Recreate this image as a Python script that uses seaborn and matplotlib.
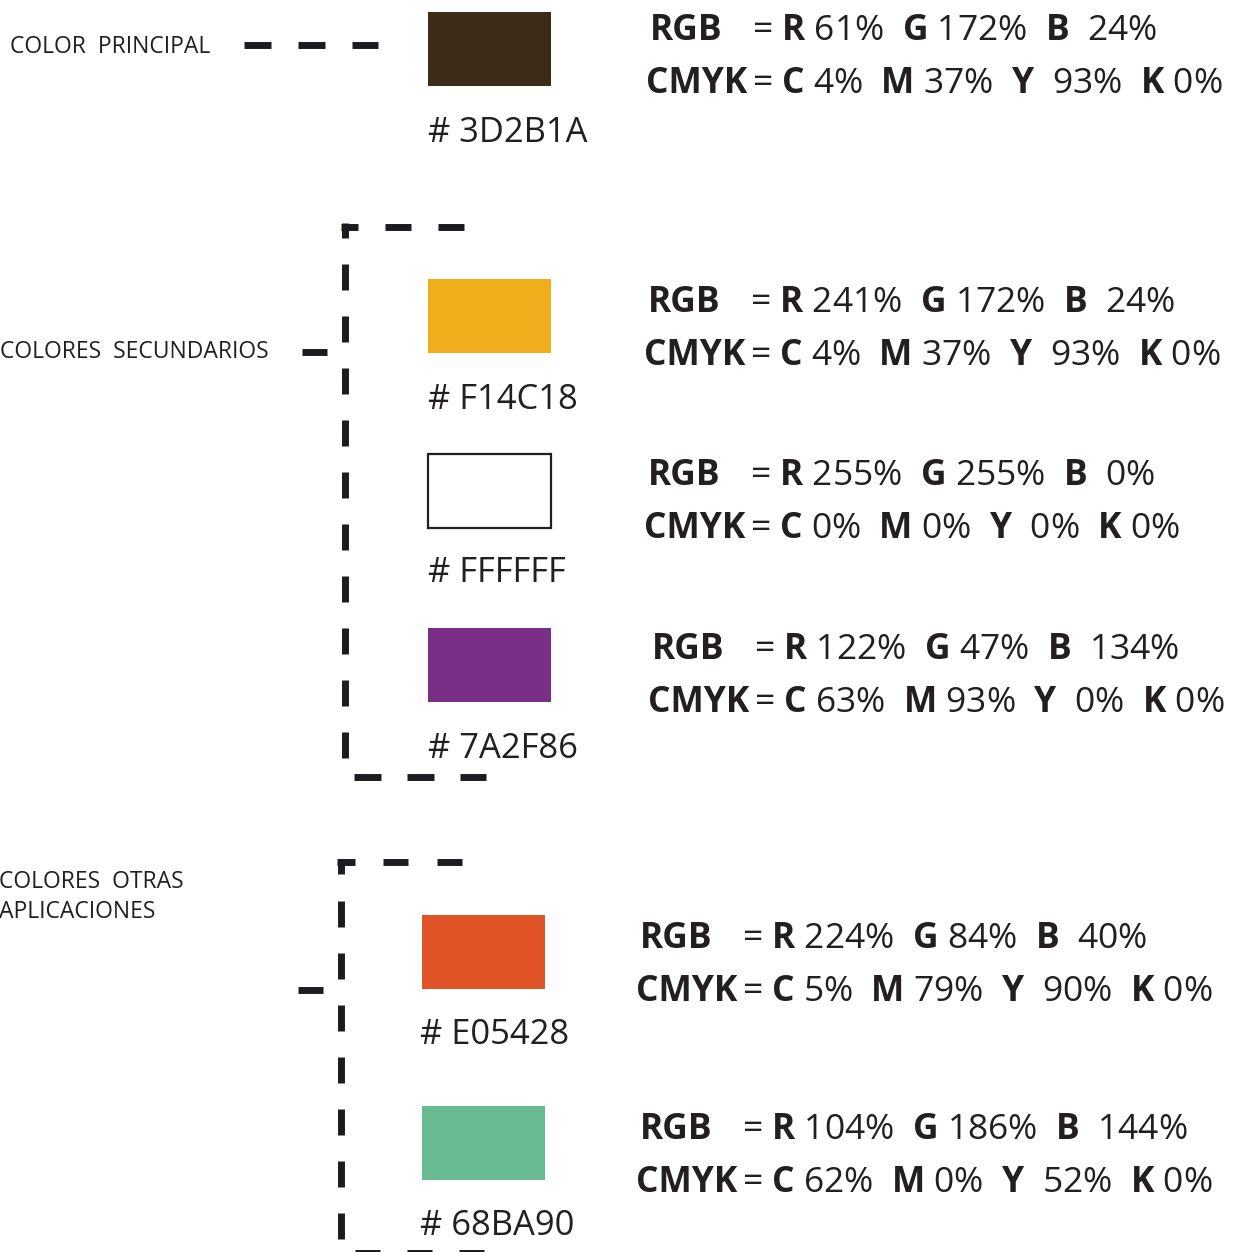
import matplotlib
matplotlib.use("Agg")
import matplotlib.pyplot as plt
from matplotlib.patches import Rectangle
import seaborn as sns

# ---------------- data ----------------
group_names = ["COLOR  PRINCIPAL", "COLORES  SECUNDARIOS", "COLORES  OTRAS\nAPLICACIONES"]
hex_labels = ["# 3D2B1A", "# F14C18", "# FFFFFF", "# 7A2F86", "# E05428", "# 68BA90"]
swatch_colors = ["#3D2B1A", "#F0AE1C", "#FFFFFF", "#7A2F86", "#E05428", "#68BA90"]
rgb_r = [61, 241, 255, 122, 224, 104]
rgb_g = [172, 172, 255, 47, 84, 186]
rgb_b = [24, 24, 0, 134, 40, 144]
cmyk_c = [4, 4, 0, 63, 5, 62]
cmyk_m = [37, 37, 0, 93, 79, 0]
cmyk_y = [93, 93, 0, 0, 90, 52]
cmyk_k = [0, 0, 0, 0, 0, 0]

# ---------------- style ----------------
sns.set_theme(style="white")
plt.rcParams["font.family"] = ["Open Sans", "DejaVu Sans"]
plt.rcParams["mathtext.fontset"] = "custom"
plt.rcParams["mathtext.rm"] = "Open Sans"
plt.rcParams["mathtext.bf"] = "Open Sans:bold"

INK = "#231F20"
DASH = "#1C1B1F"
W, H = 1238, 1252

fig = plt.figure(figsize=(W / 100, H / 100), dpi=100)
ax = fig.add_axes([0, 0, 1, 1])
ax.set_xlim(0, W)
ax.set_ylim(H, 0)
ax.axis("off")


def dashed(p0, p1, on=26, off=26, lw=5.0):
    (x0, y0), (x1, y1) = p0, p1
    L = ((x1 - x0) ** 2 + (y1 - y0) ** 2) ** 0.5
    ux, uy = (x1 - x0) / L, (y1 - y0) / L
    s = 0.0
    while s < L:
        e = min(s + on, L)
        ax.plot([x0 + ux * s, x0 + ux * e], [y0 + uy * s, y0 + uy * e],
                color=DASH, lw=lw, solid_capstyle="butt")
        s += on + off


# ---------------- layout ----------------
swatch_x = [428, 428, 428, 428, 422, 422]
swatch_top = [12, 279, 454, 628, 915, 1106]
SW, SH = 123, 74
hex_x = [428, 428, 428, 428, 420, 420]
hex_base = [142, 409, 582, 758, 1044, 1235]
eq_x = [752, 750, 750, 754, 742, 742]
rgb_base = [40, 312, 485, 659, 948, 1139]

HFS = 24.8
FS = 25.5

# swatches + hex labels
for i, col in enumerate(swatch_colors):
    edge = INK if col.upper() == "#FFFFFF" else "none"
    ax.add_patch(Rectangle((swatch_x[i], swatch_top[i]), SW, SH,
                           facecolor=col, edgecolor=edge, lw=1.6))
    ax.text(hex_x[i], hex_base[i], hex_labels[i], fontsize=HFS, color=INK,
            ha="left", va="baseline")

# RGB / CMYK lines
for i in range(len(hex_labels)):
    yb = rgb_base[i]
    ax.text(eq_x[i] - 102, yb, "RGB", fontsize=FS, fontweight="bold",
            color=INK, ha="left", va="baseline")
    ax.text(eq_x[i], yb,
            rf"= $\mathbf{{R}}$ {rgb_r[i]}%  $\mathbf{{G}}$ {rgb_g[i]}%  "
            rf"$\mathbf{{B}}$  {rgb_b[i]}%",
            fontsize=FS, color=INK, ha="left", va="baseline")
    yb2 = yb + 53
    ax.text(eq_x[i] - 106, yb2, "CMYK", fontsize=FS, fontweight="bold",
            color=INK, ha="left", va="baseline")
    ax.text(eq_x[i], yb2,
            rf"= $\mathbf{{C}}$ {cmyk_c[i]}%  $\mathbf{{M}}$ {cmyk_m[i]}%  "
            rf"$\mathbf{{Y}}$  {cmyk_y[i]}%  $\mathbf{{K}}$ {cmyk_k[i]}%",
            fontsize=FS, color=INK, ha="left", va="baseline")

# group labels
LFS = 16.5
ax.text(10, 47, group_names[0], fontsize=LFS, color=INK, ha="left", va="center")
ax.text(0, 352, group_names[1], fontsize=LFS, color=INK, ha="left", va="center")
ax.text(-1, 897, group_names[2], fontsize=LFS, color=INK, ha="left",
        va="center", linespacing=1.38)

# connector group 1
dashed((244, 45), (378, 45), on=27, off=27)

# bracket group 2
dashed((341, 226.5), (358, 226.5), on=100)
dashed((344.5, 223), (344.5, 238), on=100)
dashed((385, 226.5), (465, 226.5), on=26, off=27)
dashed((344.5, 264), (344.5, 762), on=26, off=26)
dashed((354, 777), (486, 777), on=27, off=26)
dashed((302, 352), (327, 352), on=100)

# bracket group 3
dashed((337, 862), (355, 862), on=100)
dashed((341, 858.5), (341, 874), on=100)
dashed((383, 862), (462, 862), on=25, off=29)
dashed((341, 901), (341, 1241), on=26, off=26)
dashed((355, 1252.5), (485, 1252.5), on=25, off=27)
dashed((298, 990), (323, 990), on=100)

fig.savefig("out.png", dpi=100)
